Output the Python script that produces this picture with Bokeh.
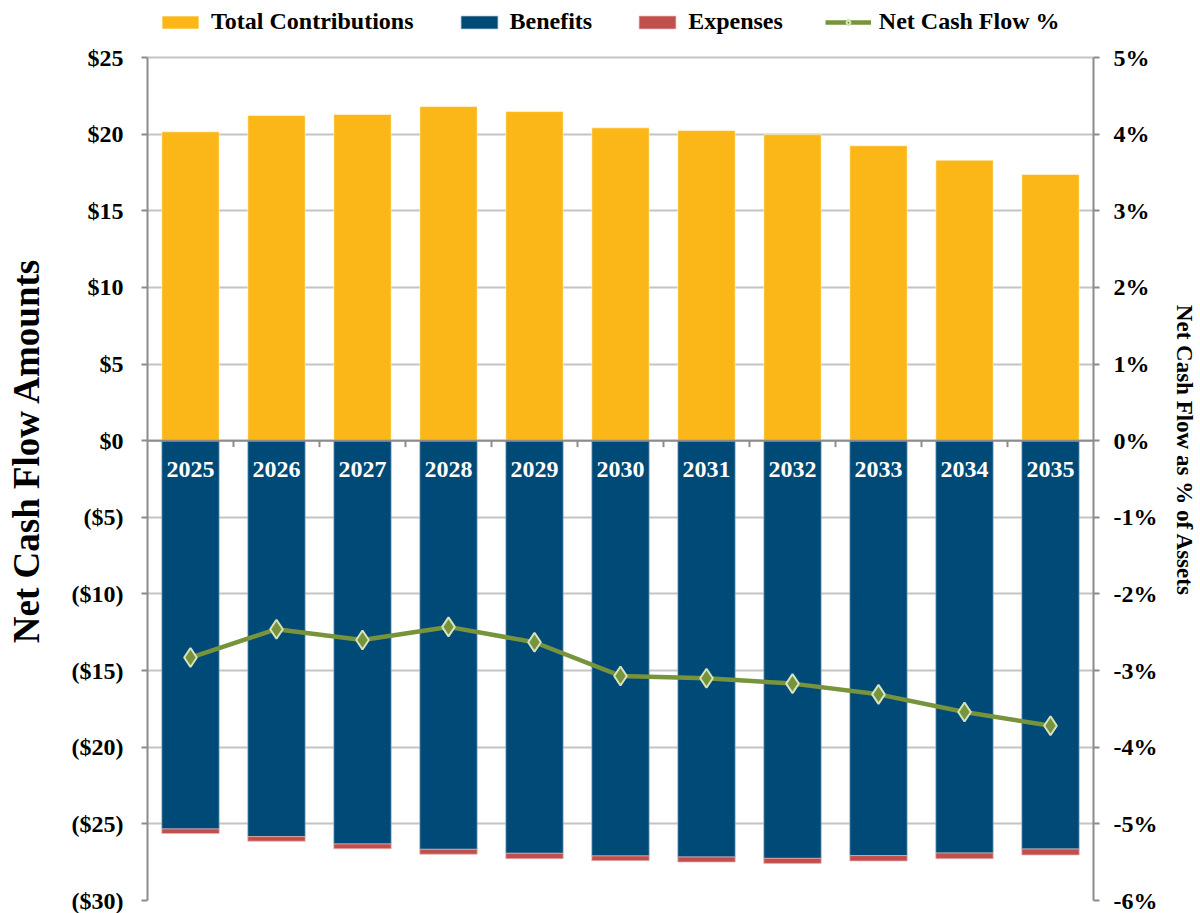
from bokeh.plotting import figure
from bokeh.models import (ColumnDataSource, Range1d, LinearAxis, FixedTicker,
                          Span, Legend, LegendItem)
from bokeh.core.properties import value
from bokeh.embed import file_html
from bokeh.resources import INLINE

# ---------------- data ----------------
years = [2025, 2026, 2027, 2028, 2029, 2030, 2031, 2032, 2033, 2034, 2035]
year_labels = [str(y) for y in years]
contributions = [20.15, 21.21, 21.28, 21.80, 21.47, 20.41, 20.23, 19.97, 19.24, 18.30, 17.37]
benefits = [25.33, 25.83, 26.31, 26.66, 26.92, 27.09, 27.16, 27.25, 27.07, 26.90, 26.64]
expenses = [0.30, 0.30, 0.31, 0.32, 0.35, 0.31, 0.33, 0.33, 0.35, 0.37, 0.39]
net_cash_flow_pct = [-2.83, -2.46, -2.60, -2.43, -2.63, -3.07, -3.10, -3.17, -3.31, -3.54, -3.72]

left_ticks = [25, 20, 15, 10, 5, 0, -5, -10, -15, -20, -25, -30]
left_tick_labels = ["$25", "$20", "$15", "$10", "$5", "$0", "($5)", "($10)",
                    "($15)", "($20)", "($25)", "($30)"]
right_ticks = [5, 4, 3, 2, 1, 0, -1, -2, -3, -4, -5, -6]
right_tick_labels = ["5%", "4%", "3%", "2%", "1%", "0%", "-1%", "-2%", "-3%",
                     "-4%", "-5%", "-6%"]

legend_labels = ["Total Contributions", "Benefits", "Expenses", "Net Cash Flow %"]
left_title = "Net Cash Flow Amounts"
right_title = "Net Cash Flow as % of Assets"

# ---------------- styles / layout ----------------
FONT = "Liberation Serif"
C_CONTRIB = "#FBB717"
C_BEN = "#004A78"
C_EXP = "#C0504D"
C_LINE = "#77933C"
C_MARK_EDGE = "#D7E4BD"
C_AXIS = "#8C8C8C"
C_GRID = "#C4C4C4"

PLOT_H = 843      # pixel height of the axes' extent
LEGEND_H = 57     # pixel room above the axes for the legend
FRAME_H = PLOT_H + LEGEND_H

lo, hi = min(left_ticks), max(left_ticks)
rlo, rhi = min(right_ticks), max(right_ticks)
left_top = hi + (hi - lo) * LEGEND_H / PLOT_H
right_top = rhi + (rhi - rlo) * LEGEND_H / PLOT_H

ben_bottom = [-b for b in benefits]
exp_top = ben_bottom
exp_bottom = [-(b + e) for b, e in zip(benefits, expenses)]
zeros = [0] * len(years)
boundaries = [y + 0.5 for y in years[:-1]]

src = ColumnDataSource(dict(
    year=years, label=year_labels, contrib=contributions,
    ben_bottom=ben_bottom, exp_top=exp_top, exp_bottom=exp_bottom,
    pct=net_cash_flow_pct, zero=zeros,
))

p = figure(frame_width=946, frame_height=FRAME_H,
           x_range=Range1d(years[0] - 0.5, years[-1] + 0.5),
           y_range=Range1d(lo, left_top),
           x_axis_location=None, y_axis_location="left",
           output_backend="svg", toolbar_location=None,
           min_border_left=147, min_border_right=107,
           min_border_top=0, min_border_bottom=13)
p.outline_line_color = None
p.background_fill_color = "white"
p.border_fill_color = "white"

p.extra_y_ranges = {"pct": Range1d(rlo, right_top)}

# grid
p.xgrid.visible = False
p.ygrid.ticker = FixedTicker(ticks=left_ticks)
p.ygrid.grid_line_color = C_GRID
p.ygrid.grid_line_width = 2

# left axis
ya = p.yaxis[0]
ya.bounds = (lo, hi)
ya.ticker = FixedTicker(ticks=left_ticks)
ya.major_label_overrides = {t: l for t, l in zip(left_ticks, left_tick_labels)}
ya.axis_line_color = C_AXIS
ya.axis_line_width = 2
ya.major_tick_line_color = C_AXIS
ya.major_tick_line_width = 2
ya.major_tick_out = 6
ya.major_tick_in = 0
ya.minor_tick_line_color = None
ya.major_label_text_font = FONT
ya.major_label_text_font_style = "bold"
ya.major_label_text_font_size = "24px"
ya.major_label_text_color = "black"
ya.major_label_standoff = 18
ya.axis_label = left_title
ya.axis_label_text_font = FONT
ya.axis_label_text_font_style = "bold"
ya.axis_label_text_font_size = "37px"
ya.axis_label_text_color = "black"
ya.axis_label_standoff = 22

# right axis
ra = LinearAxis(y_range_name="pct", ticker=FixedTicker(ticks=right_ticks),
                bounds=(rlo, rhi))
ra.major_label_overrides = {t: l for t, l in zip(right_ticks, right_tick_labels)}
ra.axis_line_color = C_AXIS
ra.axis_line_width = 2
ra.major_tick_line_color = C_AXIS
ra.major_tick_line_width = 2
ra.major_tick_out = 6
ra.major_tick_in = 0
ra.minor_tick_line_color = None
ra.major_label_text_font = FONT
ra.major_label_text_font_style = "bold"
ra.major_label_text_font_size = "24px"
ra.major_label_text_color = "black"
ra.major_label_standoff = 14
ra.axis_label = right_title
ra.axis_label_text_font = FONT
ra.axis_label_text_font_style = "bold"
ra.axis_label_text_font_size = "23px"
ra.axis_label_text_color = "black"
ra.axis_label_standoff = 12
p.add_layout(ra, "right")

# bars
W = 0.667
r_con = p.vbar(x="year", bottom="zero", top="contrib", width=W, source=src,
               fill_color=C_CONTRIB, line_color="white", line_alpha=0.5, line_width=1)
r_ben = p.vbar(x="year", bottom="ben_bottom", top="zero", width=W, source=src,
               fill_color=C_BEN, line_color="#9DB8CF", line_alpha=0.7, line_width=1)
r_exp = p.vbar(x="year", bottom="exp_bottom", top="exp_top", width=W, source=src,
               fill_color=C_EXP, line_color="#E8B0AE", line_alpha=0.7, line_width=1)

# category axis line at zero with ticks between categories
p.add_layout(Span(location=0, dimension="width", line_color=C_AXIS, line_width=2))
p.segment(x0=boundaries, y0=[0] * len(boundaries), x1=boundaries,
          y1=[-0.42] * len(boundaries), line_color=C_AXIS, line_width=2)

# year labels inside the blue bars
p.text(x="year", y="zero", text="label", source=src, y_offset=29,
       text_align="center", text_baseline="middle", text_color="white",
       text_font=value(FONT), text_font_style="bold", text_font_size="24px")

# net cash flow % line
r_line = p.line(x="year", y="pct", source=src, y_range_name="pct",
                line_color=C_LINE, line_width=4.5)
r_mark = p.scatter(x="year", y="pct", source=src, y_range_name="pct",
                   marker="diamond", size=19, fill_color=C_LINE,
                   line_color=C_MARK_EDGE, line_width=2)

legend = Legend(items=[
    LegendItem(label=legend_labels[0], renderers=[r_con]),
    LegendItem(label=legend_labels[1], renderers=[r_ben]),
    LegendItem(label=legend_labels[2], renderers=[r_exp]),
    LegendItem(label=legend_labels[3], renderers=[r_line, r_mark]),
], orientation="horizontal", location=(10, FRAME_H - 35),
    glyph_width=46, glyph_height=16, label_standoff=8, spacing=42,
    label_text_font=FONT, label_text_font_style="bold",
    label_text_font_size="24px", label_text_color="black",
    border_line_color=None, background_fill_alpha=0,
    padding=4, margin=0)
p.add_layout(legend, "center")

open("out.html", "w").write(file_html(p, INLINE))
